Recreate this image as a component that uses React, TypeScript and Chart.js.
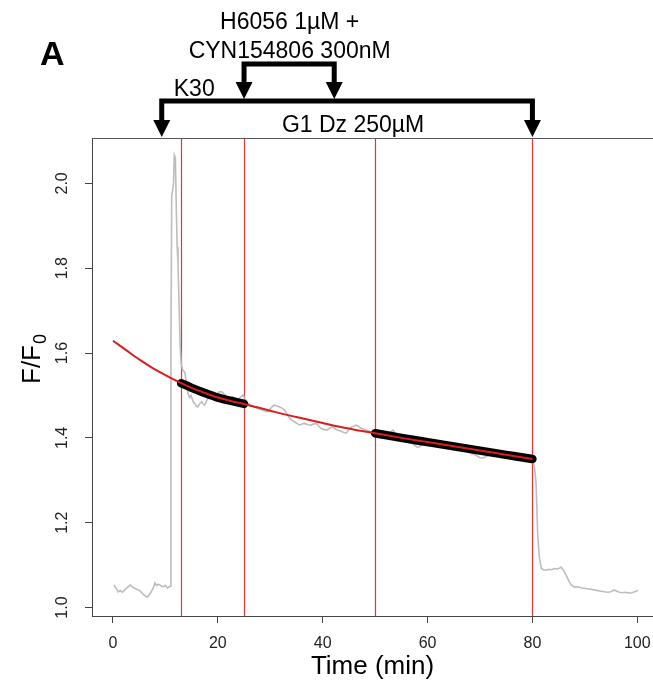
import React, { useEffect, useRef } from "react";
import { Chart, registerables } from "chart.js";

Chart.register(...registerables);

// ---------- data ----------
const traceTime = [
  0.2, 0.6, 1.0, 1.4, 1.8, 2.2, 2.6, 3.0, 3.3, 3.7, 4.1, 4.5, 5.0, 5.4, 5.8, 6.2, 6.5, 6.9, 7.3, 7.7,
  8.0, 8.3, 8.6, 8.9, 9.3, 9.7, 10.0, 10.4, 10.9, 11.05, 11.2, 11.4, 11.55, 11.7, 11.9, 12.1, 12.25, 12.4,
  12.6, 12.8, 13.0, 13.3, 13.7, 14.0, 14.3, 14.6, 14.9, 15.3, 15.6, 15.9, 16.2, 16.5, 16.9, 17.2, 17.5,
  17.8, 18.1, 18.5, 19.0, 19.4, 19.8, 20.2, 20.7, 21.2, 21.6, 21.9, 22.4, 22.8, 23.2, 23.7, 24.2, 24.8,
  25.2, 25.7, 26.1, 26.5, 27.0, 27.5, 27.9, 28.3, 28.8, 29.2, 29.6, 30.0, 30.4, 30.8, 31.3, 31.8, 32.2,
  32.7, 33.2, 33.7, 34.1, 34.6, 35.1, 35.6, 36.1, 36.6, 37.2, 37.8, 38.3, 38.8, 39.2, 39.7, 40.2, 40.7,
  41.3, 41.9, 42.4, 42.9, 43.4, 43.8, 44.2, 44.5, 45.0, 45.5, 46.0, 46.4, 46.9, 47.4, 47.9, 48.3, 48.8,
  49.3, 49.7, 50.2, 50.7, 51.3, 51.8, 52.4, 53.0, 53.4, 53.9, 54.4, 55.0, 55.5, 56.0, 56.6, 57.1, 57.6,
  58.1, 58.5, 59.0, 59.5, 60.1, 60.6, 61.2, 61.8, 62.3, 62.9, 63.5, 64.0, 64.6, 65.2, 65.7, 66.3, 66.9,
  67.4, 68.0, 68.5, 69.1, 69.6, 70.0, 70.5, 71.0, 71.6, 72.1, 72.7, 73.3, 73.9, 74.4, 74.9, 75.5, 76.0,
  76.5, 76.9, 77.5, 78.0, 78.6, 79.1, 79.6, 80.0, 80.4, 80.7, 81.0, 81.3, 81.7, 82.1, 82.6, 83.1, 83.6,
  84.2, 84.8, 85.5, 85.9, 86.4, 86.9, 87.4, 88.0, 88.7, 89.4, 90.2, 91.2, 92.0, 92.8, 93.8, 94.4, 95.0,
  95.3, 95.7, 96.3, 97.0, 97.8, 98.4, 98.9, 99.5, 100.1,
];
const traceValue = [
  1.053, 1.045, 1.037, 1.040, 1.036, 1.041, 1.046, 1.050, 1.053, 1.048, 1.046, 1.043, 1.041, 1.036, 1.031,
  1.027, 1.024, 1.030, 1.037, 1.047, 1.058, 1.052, 1.055, 1.053, 1.050, 1.049, 1.052, 1.046, 1.050, 1.600,
  1.970, 1.985, 2.000, 2.067, 2.060, 1.930, 1.850, 1.811, 1.720, 1.620, 1.575, 1.560, 1.555, 1.530, 1.505,
  1.495, 1.500, 1.485, 1.481, 1.475, 1.473, 1.480, 1.485, 1.480, 1.477, 1.486, 1.493, 1.498, 1.503, 1.505,
  1.502, 1.508, 1.509, 1.503, 1.499, 1.497, 1.494, 1.497, 1.493, 1.490, 1.495, 1.501, 1.492, 1.481, 1.478,
  1.475, 1.473, 1.470, 1.468, 1.466, 1.464, 1.462, 1.462, 1.468, 1.474, 1.477, 1.475, 1.473, 1.470, 1.466,
  1.456, 1.446, 1.442, 1.438, 1.434, 1.430, 1.433, 1.434, 1.431, 1.430, 1.433, 1.434, 1.428, 1.422, 1.420,
  1.418, 1.422, 1.426, 1.421, 1.418, 1.416, 1.414, 1.412, 1.411, 1.419, 1.426, 1.428, 1.430, 1.426, 1.422,
  1.420, 1.418, 1.416, 1.414, 1.412, 1.414, 1.410, 1.408, 1.412, 1.409, 1.414, 1.418, 1.410, 1.404, 1.401,
  1.398, 1.400, 1.393, 1.387, 1.382, 1.378, 1.379, 1.385, 1.389, 1.386, 1.390, 1.386, 1.383, 1.385, 1.381,
  1.378, 1.380, 1.377, 1.374, 1.376, 1.372, 1.369, 1.371, 1.366, 1.362, 1.360, 1.356, 1.353, 1.352, 1.355,
  1.359, 1.362, 1.360, 1.363, 1.366, 1.367, 1.362, 1.358, 1.361, 1.362, 1.360, 1.356, 1.354, 1.357, 1.353,
  1.350, 1.348, 1.330, 1.293, 1.175, 1.120, 1.092, 1.089, 1.088, 1.090, 1.089, 1.092, 1.091, 1.095, 1.088,
  1.077, 1.064, 1.053, 1.048, 1.049, 1.046, 1.045, 1.043, 1.041, 1.039, 1.037, 1.036, 1.037, 1.040, 1.041,
  1.037, 1.035, 1.036, 1.034, 1.035, 1.037, 1.040,
];

const fitTime = [0, 2.5, 5, 7.5, 10, 12.5, 15, 17.5, 20, 22.5, 25, 27.5, 30, 32.5, 35, 37.5, 40, 42.5, 45, 47.5, 50, 55, 60, 65, 70, 75, 80];
const fitValue = [1.629, 1.607, 1.585, 1.565, 1.548, 1.532, 1.518, 1.506, 1.495, 1.487, 1.480, 1.472, 1.464, 1.456, 1.449, 1.442, 1.435, 1.428, 1.422, 1.416, 1.411, 1.400, 1.390, 1.380, 1.370, 1.360, 1.350];

const seg1Time = [13, 15, 17.5, 20, 22.5, 25];
const seg1Value = [1.529, 1.518, 1.506, 1.495, 1.487, 1.480];
const seg2Time = [50, 55, 60, 65, 70, 75, 80];
const seg2Value = [1.411, 1.400, 1.390, 1.380, 1.370, 1.360, 1.350];

const markerTimes = [13, 25, 50, 80];
const xTicks = [0, 20, 40, 60, 80, 100];
const yTicks = [1.0, 1.2, 1.4, 1.6, 1.8, 2.0];

const xTitle = "Time (min)";
const yTitle = "F/F";
const yTitleSub = "0";
const panelLabel = "A";
const k30Label = "K30";
const drugLines = ["H6056 1µM +", "CYN154806 300nM"];
const dzLabel = "G1 Dz 250µM";
const mainBracket = [9.3, 80];
const smallBracket = [25, 42.2];
const k30Time = 15.5;
const drugTime = 33.7;
const dzTime = 45.8;

const FONT = '"Liberation Sans", Arial, Helvetica, sans-serif';

const toPts = (xs: number[], ys: number[]) => xs.map((x, i) => ({ x, y: ys[i] }));

function drawBracket(ctx: CanvasRenderingContext2D, x1: number, x2: number, barY: number, tipY: number) {
  const headH = 17;
  const headW = 8.5;
  ctx.save();
  ctx.strokeStyle = "#000";
  ctx.fillStyle = "#000";
  ctx.lineWidth = 5;
  ctx.lineJoin = "miter";
  ctx.lineCap = "butt";
  ctx.beginPath();
  ctx.moveTo(x1, tipY - headH + 1);
  ctx.lineTo(x1, barY);
  ctx.lineTo(x2, barY);
  ctx.lineTo(x2, tipY - headH + 1);
  ctx.stroke();
  for (const x of [x1, x2]) {
    ctx.beginPath();
    ctx.moveTo(x - headW, tipY - headH);
    ctx.lineTo(x + headW, tipY - headH);
    ctx.lineTo(x, tipY);
    ctx.closePath();
    ctx.fill();
  }
  ctx.restore();
}

const decorPlugin = {
  id: "decor",
  beforeDatasetsDraw(chart: any) {
    const { ctx, chartArea: ca, scales } = chart;
    const xs = scales.x;
    ctx.save();
    ctx.beginPath();
    ctx.rect(ca.left, ca.top, ca.right - ca.left, ca.bottom - ca.top);
    ctx.clip();
    ctx.strokeStyle = "#d63a3a";
    ctx.lineWidth = 1.2;
    for (const t of markerTimes) {
      const px = Math.round(xs.getPixelForValue(t)) + 0.5;
      ctx.beginPath();
      ctx.moveTo(px, ca.top);
      ctx.lineTo(px, ca.bottom);
      ctx.stroke();
    }
    ctx.restore();
  },
  afterDraw(chart: any) {
    const { ctx, chartArea: ca, scales } = chart;
    const xs = scales.x;
    ctx.save();
    // top border of the box
    ctx.strokeStyle = "#555";
    ctx.lineWidth = 1;
    ctx.beginPath();
    ctx.moveTo(ca.left, Math.round(ca.top) + 0.5);
    ctx.lineTo(ca.right, Math.round(ca.top) + 0.5);
    ctx.stroke();

    // brackets
    drawBracket(ctx, xs.getPixelForValue(mainBracket[0]), xs.getPixelForValue(mainBracket[1]), 101, 137);
    drawBracket(ctx, xs.getPixelForValue(smallBracket[0]), xs.getPixelForValue(smallBracket[1]), 64, 99);

    // texts
    ctx.fillStyle = "#000";
    ctx.textAlign = "center";
    ctx.textBaseline = "alphabetic";
    ctx.font = `23px ${FONT}`;
    ctx.fillText(drugLines[0], xs.getPixelForValue(drugTime), 29);
    ctx.fillText(drugLines[1], xs.getPixelForValue(drugTime), 58);
    ctx.fillText(k30Label, xs.getPixelForValue(k30Time), 96);
    ctx.fillText(dzLabel, xs.getPixelForValue(dzTime), 132);
    ctx.font = `bold 34px ${FONT}`;
    ctx.textAlign = "left";
    ctx.fillText(panelLabel, 40, 65);

    // y title with subscript
    ctx.translate(40, 384);
    ctx.rotate(-Math.PI / 2);
    ctx.textAlign = "left";
    ctx.font = `26px ${FONT}`;
    ctx.fillText(yTitle, 0, 0);
    const w = ctx.measureText(yTitle).width;
    ctx.font = `18px ${FONT}`;
    ctx.fillText(yTitleSub, w + 1, 6);
    ctx.restore();
  },
};

export default function App() {
  const ref = useRef<HTMLCanvasElement | null>(null);

  useEffect(() => {
    if (!ref.current) return;
    const axisColor = "#444";
    const chart = new Chart(ref.current, {
      type: "line",
      data: {
        datasets: [
          {
            label: "trace",
            data: toPts(traceTime, traceValue),
            borderColor: "#bdbdbd",
            borderWidth: 1.6,
            pointRadius: 0,
            tension: 0,
            order: 4,
          },
          {
            label: "fit segment 1",
            data: toPts(seg1Time, seg1Value),
            borderColor: "#000",
            borderWidth: 8.5,
            borderCapStyle: "round",
            pointRadius: 0,
            cubicInterpolationMode: "monotone",
            order: 3,
          },
          {
            label: "fit segment 2",
            data: toPts(seg2Time, seg2Value),
            borderColor: "#000",
            borderWidth: 8.5,
            borderCapStyle: "round",
            pointRadius: 0,
            cubicInterpolationMode: "monotone",
            order: 3,
          },
          {
            label: "fit",
            data: toPts(fitTime, fitValue),
            borderColor: "#d81e1e",
            borderWidth: 2,
            pointRadius: 0,
            cubicInterpolationMode: "monotone",
            order: 1,
          },
        ],
      },
      options: {
        responsive: false,
        animation: false,
        events: [],
        layout: { padding: { top: 138, left: 0, right: 0, bottom: 0 } },
        plugins: { legend: { display: false }, tooltip: { enabled: false } },
        scales: {
          x: {
            type: "linear",
            min: -4,
            max: 103,
            afterBuildTicks: (s: any) => {
              s.ticks = xTicks.map((v) => ({ value: v }));
            },
            afterFit: (s: any) => {
              s.height = 72;
              s.paddingLeft = 0;
              s.paddingRight = 0;
            },
            ticks: {
              font: { size: 16, family: FONT },
              color: "#222",
              padding: 11,
              maxRotation: 0,
              autoSkip: false,
              callback: (v: any) => String(v),
            },
            grid: { display: true, drawOnChartArea: false, drawTicks: true, tickLength: 7, color: axisColor },
            border: { display: true, color: axisColor },
            title: {
              display: true,
              text: xTitle,
              font: { size: 26, family: FONT },
              color: "#000",
              padding: { top: 0, bottom: 6 },
            },
          },
          y: {
            type: "linear",
            min: 0.98,
            max: 2.107,
            afterBuildTicks: (s: any) => {
              s.ticks = yTicks.map((v) => ({ value: v }));
            },
            afterFit: (s: any) => {
              s.width = 92;
              s.paddingTop = 0;
              s.paddingBottom = 0;
            },
            ticks: {
              font: { size: 16, family: FONT },
              color: "#222",
              padding: 11,
              minRotation: 90,
              maxRotation: 90,
              crossAlign: "center",
              autoSkip: false,
              callback: (v: any) => Number(v).toFixed(1),
            },
            grid: { display: true, drawOnChartArea: false, drawTicks: true, tickLength: 7, color: axisColor },
            border: { display: true, color: axisColor },
          },
        },
      },
      plugins: [decorPlugin],
    } as any);
    return () => chart.destroy();
  }, []);

  return (
    <div style={{ position: "absolute", left: 0, top: 0, width: 653, height: 688, background: "#fff" }}>
      <canvas ref={ref} width={653} height={688} style={{ display: "block", width: 653, height: 688 }} />
    </div>
  );
}
